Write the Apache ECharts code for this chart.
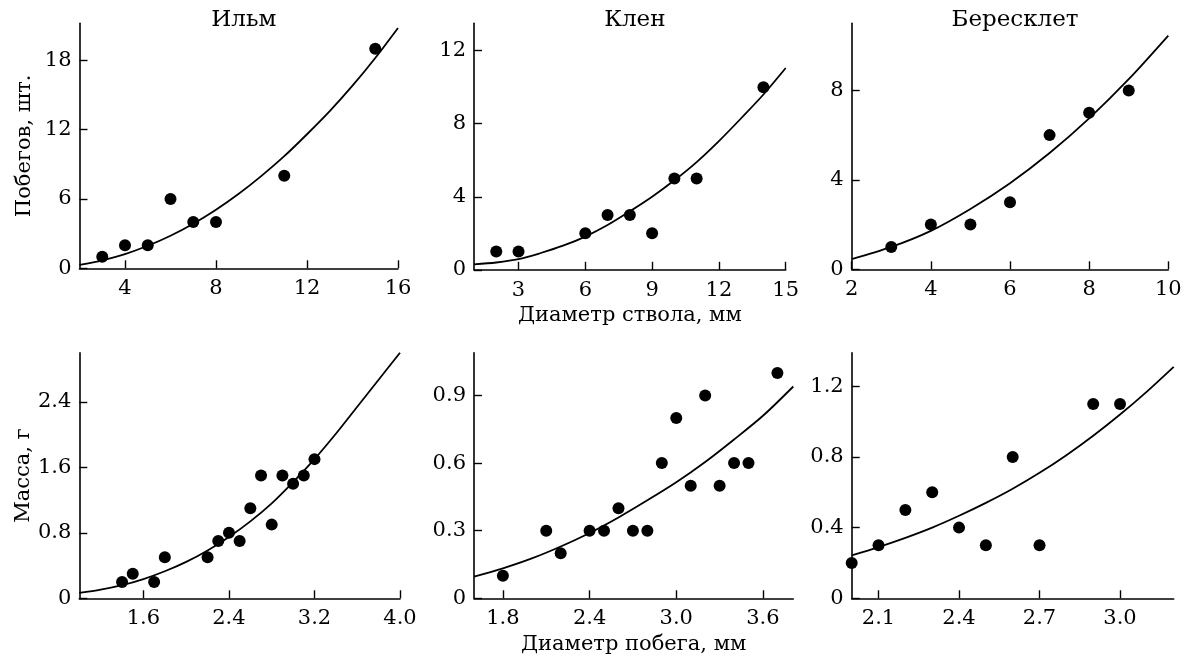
<!DOCTYPE html>
<html><head><meta charset="utf-8">
<script src="https://cdn.jsdelivr.net/npm/echarts@6/dist/echarts.min.js"></script>
<style>html,body{margin:0;padding:0;background:#fff}#c{width:1189px;height:659px}</style>
</head><body><div id="c"></div>
<script>
// ---- texts ----
const panelTitles = ['Ильм', 'Клен', 'Бересклет'];
const yNameTop = 'Побегов, шт.';
const yNameBottom = 'Масса, г';
const xNameTop = 'Диаметр ствола, мм';
const xNameBottom = 'Диаметр побега, мм';

// ---- top row: trunk diameter (mm) vs number of shoots ----
const elmTrunkX = [3, 4, 5, 6, 7, 8, 11, 15];
const elmTrunkY = [1, 2, 2, 6, 4, 4, 8, 19];
const elmTrunkFitX = [2, 3, 4, 5, 6, 7, 8, 9, 10, 11, 12, 13, 14, 15, 16];
const elmTrunkFitY = [0.3, 0.69, 1.23, 1.95, 2.82, 3.86, 5.07, 6.45, 8.0, 9.7, 11.6, 13.6, 15.8, 18.2, 20.8];

const mapleTrunkX = [2, 3, 6, 7, 8, 9, 10, 11, 14];
const mapleTrunkY = [1, 1, 2, 3, 3, 2, 5, 5, 10];
const mapleTrunkFitX = [1, 2, 3, 4, 5, 6, 7, 8, 9, 10, 11, 12, 13, 14, 15];
const mapleTrunkFitY = [0.3, 0.4, 0.58, 0.92, 1.32, 1.82, 2.45, 3.2, 4.0, 4.9, 5.9, 7.05, 8.3, 9.6, 11.05];

const spindleTrunkX = [3, 4, 5, 6, 7, 8, 9];
const spindleTrunkY = [1, 2, 2, 3, 6, 7, 8];
const spindleTrunkFitX = [2, 3, 4, 5, 6, 7, 8, 9, 10];
const spindleTrunkFitY = [0.45, 1.0, 1.72, 2.7, 3.85, 5.2, 6.75, 8.5, 10.45];

// ---- bottom row: shoot diameter (mm) vs mass (g) ----
const elmShootX = [1.4, 1.5, 1.7, 1.8, 2.2, 2.3, 2.4, 2.5, 2.6, 2.7, 2.8, 2.9, 3.0, 3.1, 3.2];
const elmShootY = [0.2, 0.3, 0.2, 0.5, 0.5, 0.7, 0.8, 0.7, 1.1, 1.5, 0.9, 1.5, 1.4, 1.5, 1.7];
const elmShootFitX = [1.0, 1.2, 1.4, 1.6, 1.8, 2.0, 2.2, 2.4, 2.6, 2.8, 3.0, 3.2, 3.4, 3.6, 3.8, 4.0];
const elmShootFitY = [0.065, 0.105, 0.16, 0.235, 0.33, 0.445, 0.585, 0.75, 0.94, 1.16, 1.42, 1.70, 2.01, 2.34, 2.67, 3.0];

const mapleShootX = [1.8, 2.1, 2.2, 2.4, 2.5, 2.6, 2.7, 2.8, 2.9, 3.0, 3.1, 3.2, 3.3, 3.4, 3.5, 3.7];
const mapleShootY = [0.1, 0.3, 0.2, 0.3, 0.3, 0.4, 0.3, 0.3, 0.6, 0.8, 0.5, 0.9, 0.5, 0.6, 0.6, 1.0];
const mapleShootFitX = [1.6, 1.8, 2.0, 2.2, 2.4, 2.6, 2.8, 3.0, 3.2, 3.4, 3.6, 3.81];
const mapleShootFitY = [0.096, 0.133, 0.177, 0.23, 0.29, 0.359, 0.435, 0.515, 0.605, 0.705, 0.81, 0.94];

const spindleShootX = [2.0, 2.1, 2.2, 2.3, 2.4, 2.5, 2.6, 2.7, 2.9, 3.0];
const spindleShootY = [0.2, 0.3, 0.5, 0.6, 0.4, 0.3, 0.8, 0.3, 1.1, 1.1];
const spindleShootFitX = [2.0, 2.1, 2.2, 2.3, 2.4, 2.5, 2.6, 2.7, 2.8, 2.9, 3.0, 3.1, 3.2];
const spindleShootFitY = [0.243, 0.29, 0.342, 0.40, 0.467, 0.54, 0.62, 0.71, 0.81, 0.92, 1.04, 1.17, 1.31];

// ---- axis ranges and tick labels ----
const xTicks = [[4, 8, 12, 16], [3, 6, 9, 12, 15], [2, 4, 6, 8, 10],
                [1.6, 2.4, 3.2, 4.0], [1.8, 2.4, 3.0, 3.6], [2.1, 2.4, 2.7, 3.0]];
const yTicks = [[0, 6, 12, 18], [0, 4, 8, 12], [0, 4, 8],
                [0, 0.8, 1.6, 2.4], [0, 0.3, 0.6, 0.9], [0, 0.4, 0.8, 1.2]];
const xRanges = [[2, 16], [1, 15], [2, 10], [1.0, 4.0], [1.6, 3.81], [2.0, 3.2]];
const yRanges = [[0, 21.2], [0, 13.5], [0, 11], [0, 3.0], [0, 1.09], [0, 1.39]];
const decimals = [0, 0, 0, 1, 1, 1];

const scatterX = [elmTrunkX, mapleTrunkX, spindleTrunkX, elmShootX, mapleShootX, spindleShootX];
const scatterY = [elmTrunkY, mapleTrunkY, spindleTrunkY, elmShootY, mapleShootY, spindleShootY];
const fitX = [elmTrunkFitX, mapleTrunkFitX, spindleTrunkFitX, elmShootFitX, mapleShootFitX, spindleShootFitX];
const fitY = [elmTrunkFitY, mapleTrunkFitY, spindleTrunkFitY, elmShootFitY, mapleShootFitY, spindleShootFitY];

// ---- layout (px) ----
const grids = [
  {left: 79.5, top: 23.3, width: 318.5, height: 245},
  {left: 474, top: 23.3, width: 311.7, height: 246.5},
  {left: 851.7, top: 23.3, width: 316.6, height: 246},
  {left: 79.3, top: 352.7, width: 320.7, height: 245.6},
  {left: 474, top: 352.7, width: 319.3, height: 245.6},
  {left: 851.7, top: 352.7, width: 322, height: 245.6}
];

const FONT = '"DejaVu Serif", "Liberation Serif", serif';
const INK = '#000';
const FS = 21;
const FS_TITLE = 23;

function fmt(v, d) { return v === 0 ? '0' : v.toFixed(d); }
const zip = (a, b) => a.map((v, i) => [v, b[i]]);

const option = {
  animation: false,
  backgroundColor: '#fff',
  textStyle: {fontFamily: FONT, color: INK},
  title: panelTitles.map((t, i) => ({
    text: t,
    left: grids[i].left + grids[i].width / 2,
    top: 4,
    textAlign: 'center',
    textStyle: {fontFamily: FONT, fontSize: FS_TITLE, fontWeight: 'normal', color: INK}
  })),
  grid: grids.map(g => Object.assign({}, g)),
  xAxis: grids.map((g, i) => ({
    type: 'value', gridIndex: i,
    min: xRanges[i][0], max: xRanges[i][1],
    name: i === 1 ? xNameTop : (i === 4 ? xNameBottom : ''),
    nameLocation: 'middle', nameGap: i === 4 ? 36 : 35,
    nameTextStyle: {fontFamily: FONT, fontSize: FS, color: INK},
    axisLine: {show: true, onZero: false, lineStyle: {color: INK, width: 1.6}},
    axisTick: {show: true, inside: true, length: 8, customValues: xTicks[i], lineStyle: {color: INK, width: 1.4}},
    axisLabel: {show: true, customValues: xTicks[i], margin: 10, fontFamily: FONT, fontSize: FS, color: INK,
      formatter: v => fmt(v, decimals[i])},
    splitLine: {show: false}
  })),
  yAxis: grids.map((g, i) => ({
    type: 'value', gridIndex: i,
    min: yRanges[i][0], max: yRanges[i][1],
    name: i === 0 ? yNameTop : (i === 3 ? yNameBottom : ''),
    nameLocation: 'middle', nameGap: 44, nameRotate: 90,
    nameTextStyle: {fontFamily: FONT, fontSize: FS, color: INK},
    axisLine: {show: true, onZero: false, lineStyle: {color: INK, width: 1.6}},
    axisTick: {show: true, inside: true, length: 8, customValues: yTicks[i], lineStyle: {color: INK, width: 1.4}},
    axisLabel: {show: true, customValues: yTicks[i], margin: 8, fontFamily: FONT, fontSize: FS, color: INK,
      formatter: v => fmt(v, decimals[i])},
    splitLine: {show: false}
  })),
  series: []
};

for (let i = 0; i < 6; i++) {
  option.series.push({
    type: 'line', xAxisIndex: i, yAxisIndex: i,
    data: zip(fitX[i], fitY[i]),
    smooth: 0.3, showSymbol: false, symbol: 'none',
    lineStyle: {color: INK, width: 1.8},
    z: 2, silent: true
  });
  option.series.push({
    type: 'scatter', xAxisIndex: i, yAxisIndex: i,
    data: zip(scatterX[i], scatterY[i]),
    symbol: 'circle', symbolSize: 12,
    itemStyle: {color: INK, opacity: 1},
    z: 3, silent: true
  });
}

const chart = echarts.init(document.getElementById('c'), null, {renderer: 'canvas'});
chart.setOption(option);
</script>
</body></html>
